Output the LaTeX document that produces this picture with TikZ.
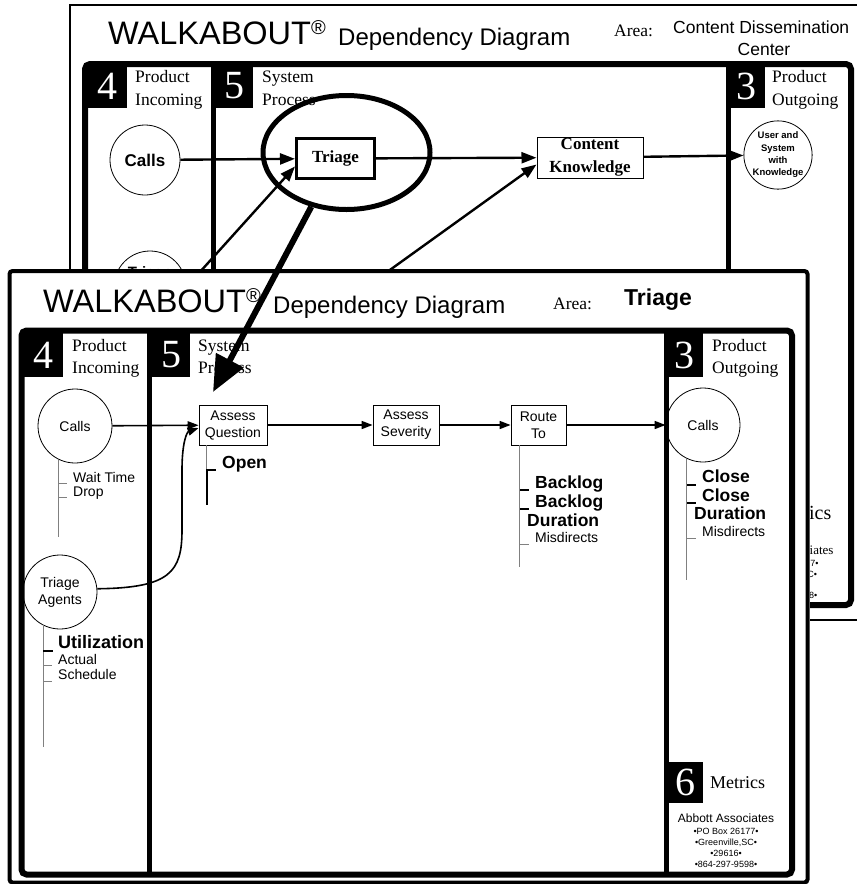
\documentclass[tikz,border=0pt]{standalone}
\usepackage{fontspec}
\setmainfont{Liberation Serif}
\setsansfont{Liberation Sans}
\usetikzlibrary{shapes.geometric,arrows.meta}
\newcommand\myfs[2]{\fontsize{#1}{#2}\selectfont}
\tikzset{
  frame/.style={line width=6pt,rounded corners=5pt},
  divider/.style={line width=5pt},
  numbox/.style={fill=black,text=white,inner sep=0pt,font=\rmfamily\myfs{40}{40}},
  hdr/.style={anchor=base west,inner sep=0pt,font=\rmfamily\myfs{17.5}{20}},
  circ/.style={circle,draw,line width=0.8pt,inner sep=0pt,minimum size=74pt,align=center,font=\sffamily\myfs{14}{17}},
  pbox/.style={draw,line width=0.8pt,inner sep=0pt,align=center,font=\sffamily\myfs{14}{17}},
  arr/.style={line width=1.6pt,-{Triangle[length=11pt,width=8pt]}},
  tarr/.style={line width=2.4pt,-{Triangle[length=15pt,width=11pt]}},
  mline/.style={draw=gray,line width=1pt},
  gtick/.style={draw=gray,line width=1pt},
  btick/.style={draw=black,line width=2pt},
  mb/.style={anchor=base west,inner sep=0pt,font=\sffamily\bfseries\myfs{17.5}{20}},
  mr/.style={anchor=base west,inner sep=0pt,font=\sffamily\myfs{14}{16}},
  big/.style={anchor=base west,inner sep=0pt,font=\sffamily\myfs{32.5}{34}},
  sub/.style={anchor=base west,inner sep=0pt,font=\sffamily\myfs{24}{26}},
  arealbl/.style={anchor=base west,inner sep=0pt,font=\rmfamily\myfs{17.5}{20}}
}
\begin{document}
\begin{tikzpicture}[x=1pt,y=-1pt]
\useasboundingbox (0,0) rectangle (857,884);
\fill[white] (0,0) rectangle (857,884);

% ================= back (upper) diagram =================
\draw[line width=2pt] (857,5) -- (70,5) -- (70,620) -- (857,620);
\draw[frame] (85,64) rectangle (851,605);
\draw[divider] (213,64) -- (213,605);
\draw[divider] (728,64) -- (728,605);
\node[numbox,minimum width=39pt,minimum height=44pt] (t4) at (107.5,86) {4};
\node[numbox,minimum width=38pt,minimum height=44pt] (t5) at (234,86) {5};
\node[numbox,minimum width=37pt,minimum height=44pt] (t3) at (746.5,86) {3};
\node[hdr] (t4a) at (135,82) {Product};
\node[hdr] (t4b) at (135,105) {Incoming};
\node[hdr] (t5a) at (262,82) {System};
\node[hdr] (t5b) at (262,105) {Process};
\node[hdr] (t3a) at (772,82) {Product};
\node[hdr] (t3b) at (772,105) {Outgoing};

\node[big] (ttitle) at (108,44) {WALKABOUT\raisebox{10pt}{\myfs{20}{20}®}};
\node[sub] (tsub) at (338,45) {Dependency Diagram};
\node[arealbl] (tarea) at (614,36) {Area:};
\node[anchor=base west,inner sep=0pt,font=\sffamily\myfs{17.5}{20}] (tarea1) at (673,33) {Content Dissemination};
\node[anchor=base,inner sep=0pt,font=\sffamily\myfs{17.5}{20}] (tarea2) at (764,55) {Center};

\node[circ,minimum size=70pt,font=\sffamily\bfseries\myfs{17}{20}] (tcalls) at (145,160) {Calls};
\node[draw,line width=3pt,inner sep=0pt,minimum width=78pt,minimum height=40pt,font=\rmfamily\bfseries\myfs{17}{20}] (ttriage) at (335.5,158.5) {Triage};
\node[draw,line width=1pt,inner sep=0pt,minimum width=106pt,minimum height=41pt,align=center,font=\rmfamily\bfseries\myfs{17}{23}] (tck) at (590,157.5) {Content\\Knowledge};
\node[circ,minimum size=64pt,font=\sffamily\bfseries\myfs{9.5}{12.3}] (tuser) at (778,155) {User and\\System\\with\\Knowledge};
\node[circ,minimum size=72pt] (tta) at (150,287) {};
\node[anchor=base,inner sep=0pt,font=\sffamily\bfseries\myfs{15}{18}] (ttatxt) at (150,277) {Triage};
\coordinate (tsrc) at (369,285);

\draw[tarr] (tcalls) -- (ttriage);
\draw[tarr] (ttriage) -- (tck);
\draw[tarr] (tck) -- (tuser);
\draw[tarr] (tta.east) -- ([yshift=-8pt]ttriage.west);
\draw[tarr] (tsrc) -- ([yshift=-7pt]tck.west);

\node[anchor=base west,inner sep=0pt,font=\rmfamily\myfs{20}{20}] (tmet) at (770,519) {Metrics};
\node[anchor=base,inner sep=0pt,font=\rmfamily\myfs{13}{13}] (tabb) at (786,554) {Abbott Associates};
\node[anchor=base,inner sep=0pt,font=\sffamily\myfs{9}{9}] (tl1) at (786,566) {•PO Box 26177•};
\node[anchor=base,inner sep=0pt,font=\sffamily\myfs{9}{9}] (tl2) at (786,577) {•Greenville,SC•};
\node[anchor=base,inner sep=0pt,font=\sffamily\myfs{9}{9}] (tl4) at (786,598) {•864-297-9598•};

% ================= front (lower) diagram =================
\fill[white] (7,269) rectangle (810,884);
\draw[line width=4pt,rounded corners=3pt] (9.5,271) rectangle (807.5,882.5);
\draw[frame] (21.5,330.5) rectangle (792,874.5);
\draw[divider] (149.5,330.5) -- (149.5,874.5);
\draw[divider] (666,330.5) -- (666,874.5);
\node[numbox,minimum width=40pt,minimum height=44pt] (b4) at (43,355) {4};
\node[numbox,minimum width=38pt,minimum height=44pt] (b5) at (171,355) {5};
\node[numbox,minimum width=37pt,minimum height=44pt] (b3) at (684.5,355) {3};
\node[hdr] (b4a) at (72,351) {Product};
\node[hdr] (b4b) at (72,373) {Incoming};
\node[hdr] (b5a) at (198,351) {System};
\node[hdr] (b5b) at (198,373) {Process};
\node[hdr] (b3a) at (712,351) {Product};
\node[hdr] (b3b) at (712,373) {Outgoing};

\node[big] (btitle) at (43,312) {WALKABOUT\raisebox{10pt}{\myfs{20}{20}®}};
\node[sub] (bsub) at (273,313) {Dependency Diagram};
\node[arealbl] (barea) at (553,309) {Area:};
\node[anchor=base west,inner sep=0pt,font=\sffamily\bfseries\myfs{23}{25}] (bareav) at (624,305) {Triage};

% nodes
\node[circ] (bcalls) at (75,426) {Calls};
\node[circ] (ta) at (60,592) {Triage\\Agents};
\node[pbox,minimum width=68pt,minimum height=40pt] (aq) at (233,425) {Assess\\Question};
\node[pbox,minimum width=66pt,minimum height=40pt] (as) at (406,425) {Assess\\Severity};
\node[pbox,minimum width=55pt,minimum height=40pt] (rt) at (538.5,425) {Route\\To};
\node[circ] (ocalls) at (703,425) {Calls};

% connectors
\draw[arr] (bcalls) -- (aq);
\draw[arr] (aq) -- (as);
\draw[arr] (as) -- (rt);
\draw[arr] (rt) -- (ocalls);
\draw[arr] (ta.5) .. controls (170,588) and (182,572) .. (182,530) -- (182,470) .. controls (182,442) and (187,432) .. ([yshift=-3pt]aq.west);

% metrics: Calls (incoming)
\draw[mline] (bcalls.244) -- (bcalls.244 |- 0,537);
\draw[gtick] (59,483) -- (67,483);
\draw[gtick] (59,497) -- (67,497);
\node[mr] (mwait) at (73,482) {Wait Time};
\node[mr] (mdrop) at (73,496) {Drop};

% metrics: Triage Agents
\draw[mline] (ta.243) -- (ta.243 |- 0,747);
\draw[btick] (43,651) -- (53,651);
\draw[gtick] (43,665) -- (52,665);
\draw[gtick] (43,681) -- (52,681);
\node[mb,font=\sffamily\bfseries\myfs{18}{20}] (mutil) at (58,648) {Utilization};
\node[mr] (mact) at (58,664) {Actual};
\node[mr] (msch) at (58,679) {Schedule};

% metrics: Assess Question
\draw[mline] ([xshift=8pt]aq.south west) -- ++(0,60);
\draw[btick] (207,469) -- (207,505);
\draw[btick] (207,470) -- (216,470);
\node[mb] (mopen) at (222,468) {Open};

% metrics: Route To
\draw[mline] ([xshift=9pt]rt.south west) -- ++(0,122);
\draw[btick] (520,490) -- (529,490);
\draw[btick] (520,509) -- (529,509);
\draw[gtick] (520,544) -- (529,544);
\node[mb] (mbl1) at (535,488) {Backlog};
\node[mb] (mbl2) at (535,507) {Backlog};
\node[mb] (mdur1) at (527,526) {Duration};
\node[mr] (mmis1) at (535,542) {Misdirects};

% metrics: Calls (outgoing)
\draw[mline] (ocalls.244) -- (ocalls.244 |- 0,580);
\draw[btick] (687,485) -- (696,485);
\draw[btick] (687,503) -- (696,503);
\draw[gtick] (687,538) -- (696,538);
\node[mb] (mcl1) at (702,482) {Close};
\node[mb] (mcl2) at (702,501) {Close};
\node[mb] (mdur2) at (694,519) {Duration};
\node[mr] (mmis2) at (702,536) {Misdirects};

% metrics block
\node[numbox,minimum width=36pt,minimum height=41pt] (b6) at (685,782.5) {6};
\node[anchor=base west,inner sep=0pt,font=\rmfamily\myfs{18}{18}] (bmet) at (710,788) {Metrics};
\node[anchor=base,inner sep=0pt,font=\sffamily\myfs{12}{12}] (babb) at (726,822) {Abbott Associates};
\node[anchor=base,inner sep=0pt,font=\sffamily\myfs{9}{9}] (bl1) at (726,834) {•PO Box 26177•};
\node[anchor=base,inner sep=0pt,font=\sffamily\myfs{9}{9}] (bl2) at (726,845) {•Greenville,SC•};
\node[anchor=base,inner sep=0pt,font=\sffamily\myfs{9}{9}] (bl3) at (726,856) {•29616•};
\node[anchor=base,inner sep=0pt,font=\sffamily\myfs{9}{9}] (bl4) at (726,867) {•864-297-9598•};

% ================= highlight and zoom arrow =================
\node[ellipse,draw,line width=5pt,inner sep=0pt,minimum width=167pt,minimum height=114pt] (hl) at (346.5,152.5) {};
\coordinate (bigtip) at (213,392);
\draw[line width=6pt,-{Triangle[length=36pt,width=30pt]}] (hl.237) -- (bigtip);
\end{tikzpicture}
\end{document}
